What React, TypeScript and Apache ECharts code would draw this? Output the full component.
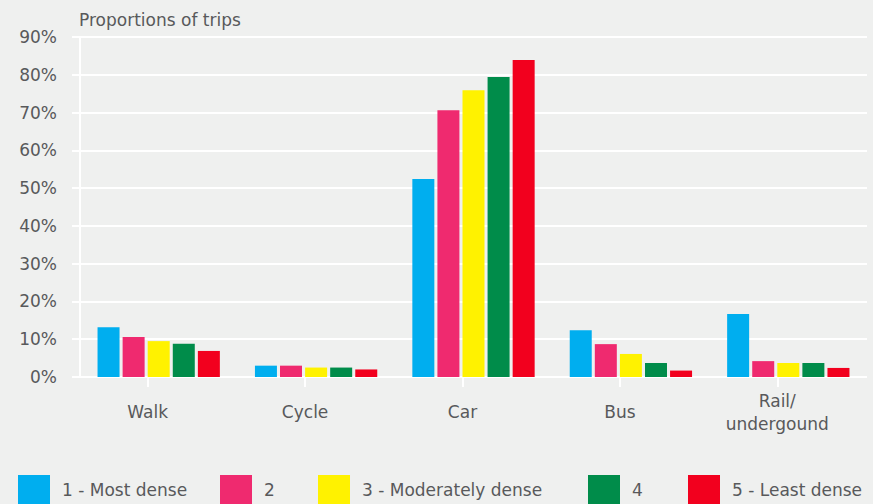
import React, { useEffect, useRef } from "react";
import * as echarts from "echarts";

const categories = ["Walk", "Cycle", "Car", "Bus", "Rail/\nundergound"];
const seriesNames = ["1 - Most dense", "2", "3 - Moderately dense", "4", "5 - Least dense"];
const mostDense = [13.2, 3.0, 52.4, 12.4, 16.7];
const dense2 = [10.6, 3.0, 70.6, 8.7, 4.2];
const moderatelyDense = [9.5, 2.5, 75.9, 6.1, 3.7];
const dense4 = [8.8, 2.5, 79.4, 3.7, 3.7];
const leastDense = [6.9, 2.0, 83.9, 1.7, 2.4];
const yTicks = { min: 0, max: 90, interval: 10 };

const colors = ["#00aeef", "#ef2a6f", "#fff200", "#008c4a", "#f2001e"];
const FONT = "DejaVu Sans";
const TEXT = "#58595b";

export default function App() {
  const ref = useRef<HTMLDivElement>(null);
  useEffect(() => {
    document.body.style.margin = "0";
    const chart = echarts.init(ref.current!, null, { renderer: "svg" });
    const values = [mostDense, dense2, moderatelyDense, dense4, leastDense];
    const legendLefts = [18, 220, 318, 588, 688];
    chart.setOption({
      animation: false,
      backgroundColor: "#eff0ef",
      title: {
        text: "Proportions of trips",
        left: 79,
        top: 11,
        padding: 0,
        textStyle: { fontFamily: FONT, fontSize: 17, fontWeight: "normal", color: TEXT },
      },
      legend: seriesNames.map((n, i) => ({
        data: [n],
        left: legendLefts[i],
        top: 475,
        padding: 0,
        icon: "rect",
        itemWidth: 32,
        itemHeight: 30,
        selectedMode: false,
        textStyle: { fontFamily: FONT, fontSize: 17, color: TEXT, padding: [0, 0, 0, 7] },
      })),
      grid: [
        { left: 80, right: 6, top: 37, bottom: 127 },
        { left: 69, right: 17, top: 37, bottom: 127 },
      ],
      xAxis: [
        {
          type: "category",
          gridIndex: 0,
          data: categories,
          axisLine: { show: false },
          axisTick: { show: false },
          axisLabel: { show: false },
        },
        {
          type: "category",
          gridIndex: 1,
          data: categories,
          axisLine: { show: false },
          axisTick: { show: true, alignWithLabel: true, length: 10, lineStyle: { color: "#ffffff", width: 2 } },
          axisLabel: {
            fontFamily: FONT,
            fontSize: 17,
            color: TEXT,
            lineHeight: 23,
            verticalAlign: "middle",
            margin: 35,
          },
        },
      ],
      yAxis: [
        {
          type: "value",
          gridIndex: 0,
          min: yTicks.min,
          max: yTicks.max,
          interval: yTicks.interval,
          axisLine: { show: true, lineStyle: { color: "#ffffff", width: 2 } },
          axisTick: { show: true, length: 8, lineStyle: { color: "#ffffff", width: 2 } },
          splitLine: { show: true, lineStyle: { color: "#ffffff", width: 2 } },
          axisLabel: {
            formatter: "{value}%",
            fontFamily: FONT,
            fontSize: 17,
            color: TEXT,
            margin: 23,
          },
        },
        { type: "value", gridIndex: 1, show: false, min: 0, max: 90 },
      ],
      series: seriesNames.map((n, i) => ({
        name: n,
        type: "bar",
        xAxisIndex: 0,
        yAxisIndex: 0,
        data: values[i],
        barWidth: 22,
        barGap: "14%",
        itemStyle: { color: colors[i] },
      })),
    });
    return () => chart.dispose();
  }, []);
  return <div ref={ref} style={{ position: "fixed", left: 0, top: 0, width: 873, height: 504 }} />;
}
